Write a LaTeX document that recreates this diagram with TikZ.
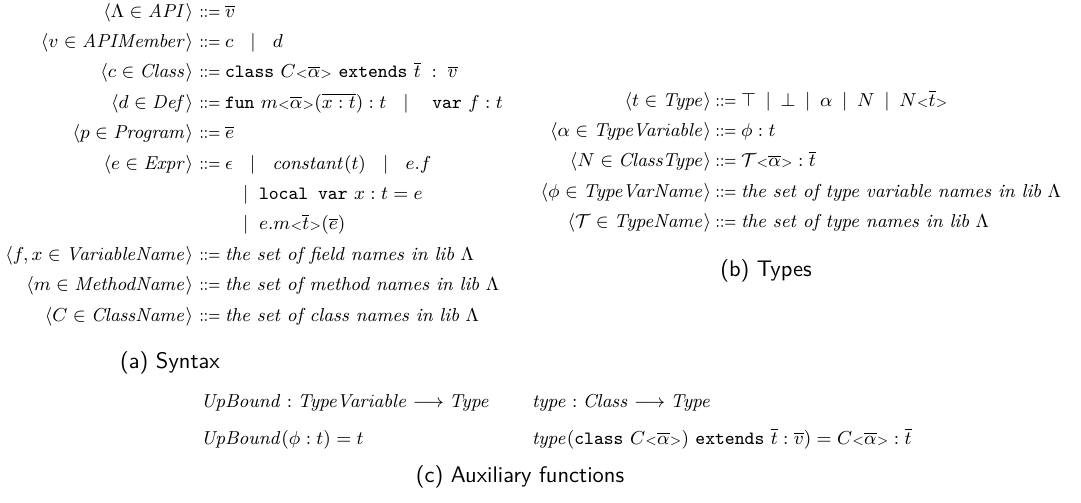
\documentclass[tikz,border=0pt]{standalone}
\usepackage{amsmath,amssymb,graphicx}
\newcommand{\lt}{\mathord{\scriptstyle<}}
\newcommand{\gt}{\mathord{\scriptstyle>}}
\newcommand{\kw}[1]{\texttt{#1}}
\newcommand{\bor}{\mathrel{\mkern11mu\mid\mkern11mu}}
\newcommand{\tbor}{\mathrel{\mkern4mu\mid\mkern4mu}}
\newcommand{\bnfeq}{\scalebox{0.8}[1]{$::=$}}
\begin{document}
\begin{tikzpicture}[x=0.48pt,y=-0.48pt,
  every node/.style={inner sep=0pt,outer sep=0pt,font=\fontsize{9}{11}\selectfont},
  lhs/.style={anchor=base east},
  eqsym/.style={anchor=base},
  rhs/.style={anchor=base west},
  captext/.style={anchor=base,font=\fontsize{10.8}{13}\selectfont\sffamily}]
\useasboundingbox (0,0) rectangle (1081,502);
% ---------- (a) Syntax ----------
\def\lx{193}\def\ex{210}\def\rx{225}
\node[lhs] (l1) at (\lx,17) {$\langle \Lambda \in \mathit{API}\rangle$};
\node[eqsym] (d1) at (\ex,17) {\bnfeq};
\node[rhs] (r1) at (\rx,17) {$\overline{v}$};
\node[lhs] (l2) at (\lx,47.4) {$\langle v \in \mathit{APIMember}\rangle$};
\node[eqsym] (d2) at (\ex,47.4) {\bnfeq};
\node[rhs] (r2) at (\rx,47.4) {$c \bor d$};
\node[lhs] (l3) at (\lx,77.8) {$\langle c \in \mathit{Class}\rangle$};
\node[eqsym] (d3) at (\ex,77.8) {\bnfeq};
\node[rhs] (r3) at (\rx,77.8) {\kw{class} $C{\lt}\overline{\alpha}{\gt}$ \kw{extends} $\overline{t}\;:\;\overline{v}$};
\node[lhs] (l4) at (\lx,108.2) {$\langle d \in \mathit{Def}\rangle$};
\node[eqsym] (d4) at (\ex,108.2) {\bnfeq};
\node[rhs] (r4) at (\rx,108.2) {\kw{fun} $m{\lt}\overline{\alpha}{\gt}(\overline{x : t}) : t \bor{}$ \kw{var} $f : t$};
\node[lhs] (l5) at (\lx,138.6) {$\langle p \in \mathit{Program}\rangle$};
\node[eqsym] (d5) at (\ex,138.6) {\bnfeq};
\node[rhs] (r5) at (\rx,138.6) {$\overline{e}$};
\node[lhs] (l6) at (\lx,169) {$\langle e \in \mathit{Expr}\rangle$};
\node[eqsym] (d6) at (\ex,169) {\bnfeq};
\node[rhs] (r6) at (\rx,169) {$\epsilon \bor \mathit{constant}(t) \bor e.f$};
\node[rhs] (r7) at (243,199.4) {$\mathord{\mid}\mkern10mu$\kw{local var} $x : t = e$};
\node[rhs] (r8) at (243,229.8) {$\mathord{\mid}\mkern10mu e.m{\lt}\overline{t}{\gt}(\overline{e})$};
\node[lhs] (l9) at (\lx,260.2) {$\langle f, x \in \mathit{VariableName}\rangle$};
\node[eqsym] (d9) at (\ex,260.2) {\bnfeq};
\node[rhs] (r9) at (\rx,260.2) {\textit{the set of field names in lib} $\Lambda$};
\node[lhs] (l10) at (\lx,290.6) {$\langle m \in \mathit{MethodName}\rangle$};
\node[eqsym] (d10) at (\ex,290.6) {\bnfeq};
\node[rhs] (r10) at (\rx,290.6) {\textit{the set of method names in lib} $\Lambda$};
\node[lhs] (l11) at (\lx,321) {$\langle C \in \mathit{ClassName}\rangle$};
\node[eqsym] (d11) at (\ex,321) {\bnfeq};
\node[rhs] (r11) at (\rx,321) {\textit{the set of class names in lib} $\Lambda$};
\node[captext] (capa) at (170,368) {(a) Syntax};
% ---------- (b) Types ----------
\def\tlx{711}\def\tex{726}\def\trx{741}
\node[lhs] (tl1) at (\tlx,106) {$\langle t \in \mathit{Type}\rangle$};
\node[eqsym] (td1) at (\tex,106) {\bnfeq};
\node[rhs] (tr1) at (\trx,106) {$\top \tbor \bot \tbor \alpha \tbor N \tbor N{\lt}\overline{t}{\gt}$};
\node[lhs] (tl2) at (\tlx,136.4) {$\langle \alpha \in \mathit{TypeVariable}\rangle$};
\node[eqsym] (td2) at (\tex,136.4) {\bnfeq};
\node[rhs] (tr2) at (\trx,136.4) {$\phi : t$};
\node[lhs] (tl3) at (\tlx,166.8) {$\langle N \in \mathit{ClassType}\rangle$};
\node[eqsym] (td3) at (\tex,166.8) {\bnfeq};
\node[rhs] (tr3) at (\trx,166.8) {$\mathcal{T}{\lt}\overline{\alpha}{\gt} : \overline{t}$};
\node[lhs] (tl4) at (\tlx,197.2) {$\langle \phi \in \mathit{TypeVarName}\rangle$};
\node[eqsym] (td4) at (\tex,197.2) {\bnfeq};
\node[rhs] (tr4) at (\trx,197.2) {\textit{the set of type variable names in lib} $\Lambda$};
\node[lhs] (tl5) at (\tlx,227.6) {$\langle \mathcal{T} \in \mathit{TypeName}\rangle$};
\node[eqsym] (td5) at (\tex,227.6) {\bnfeq};
\node[rhs] (tr5) at (\trx,227.6) {\textit{the set of type names in lib} $\Lambda$};
\node[captext] (capb) at (766,276) {(b) Types};
% ---------- (c) Auxiliary functions ----------
\node[rhs] (f1) at (201,407) {$\mathit{UpBound} : \mathit{TypeVariable} \longrightarrow \mathit{Type}$};
\node[rhs] (f2) at (201,444) {$\mathit{UpBound}(\phi : t) = t$};
\node[rhs] (g1) at (532,407) {$\mathit{type} : \mathit{Class} \longrightarrow \mathit{Type}$};
\node[rhs] (g2) at (532,444) {$\mathit{type}($\kw{class} $C{\lt}\overline{\alpha}{\gt})$ \kw{extends} $\overline{t} : \overline{v}) = C{\lt}\overline{\alpha}{\gt} : \overline{t}$};
\node[captext] (capc) at (520,482) {(c) Auxiliary functions};
\end{tikzpicture}
\end{document}
